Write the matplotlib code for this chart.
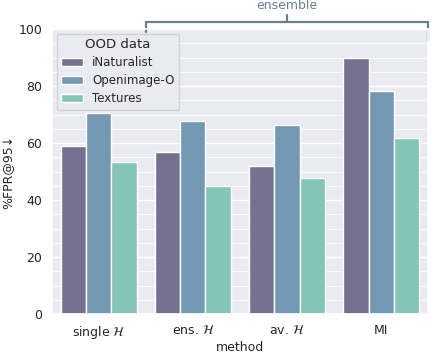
import matplotlib
matplotlib.use("Agg")
import matplotlib.pyplot as plt
import numpy as np
import pandas as pd
import seaborn as sns
from matplotlib.ticker import MultipleLocator

methods = ["single $\\mathcal{H}$", "ens. $\\mathcal{H}$", "av. $\\mathcal{H}$", "MI"]
datasets = ["iNaturalist", "Openimage-O", "Textures"]
inaturalist = [59.1, 57.0, 52.1, 90.0]
openimage = [70.5, 67.6, 66.2, 78.1]
textures = [53.5, 44.8, 47.6, 61.6]
colors = ["#75708f", "#7399b2", "#84c4b9"]

sns.set_theme(style="darkgrid")
plt.rcParams['font.family'] = ['DejaVu Sans']

df = pd.DataFrame({
    "method": methods * 3,
    "OOD data": sum([[d] * 4 for d in datasets], []),
    "fpr": inaturalist + openimage + textures,
})

fig = plt.figure(figsize=(4.32, 3.54), dpi=100)
ax = fig.add_axes([0.12, 0.113, 0.871, 0.805])
sns.barplot(data=df, x="method", y="fpr", hue="OOD data", palette=colors,
            ax=ax, saturation=1, edgecolor="white", linewidth=1)
ax.set_ylim(0, 100)
ax.set_xlim(-0.5, 3.5)
ax.yaxis.set_major_locator(MultipleLocator(20))
ax.yaxis.set_minor_locator(MultipleLocator(5))
ax.xaxis.grid(False)
ax.grid(which="major", axis="y", color="white", linewidth=1.0)
ax.grid(which="minor", axis="y", color="white", linewidth=0.6)
ax.tick_params(axis="both", which="both", length=0)
ax.tick_params(axis="x", labelsize=9, colors="#262626", pad=7.5)
ax.tick_params(axis="y", labelsize=9, colors="#262626", pad=7)
ax.set_xlabel("method", fontsize=9, color="#262626", labelpad=-0.5)
ax.set_ylabel("%FPR@95↓", fontsize=9, color="#262626", labelpad=2)
leg = ax.legend(title="OOD data", loc="upper left", fontsize=8.5, title_fontsize=9.5,
                frameon=True, borderaxespad=0.4, labelspacing=0.42, borderpad=0.4,
                handlelength=1.8)

# bracket for ensemble methods
br_color = "#6b7d8f"
x0, x1 = 0.5, 3.5
ax.plot([x0, x0, x1, x1], [99, 102.5, 102.5, 95.8], color=br_color, lw=1.6,
        clip_on=False, solid_joinstyle="miter")
ax.plot([(x0 + x1) / 2, (x0 + x1) / 2], [102.5, 105], color=br_color, lw=1.6,
        clip_on=False)
ax.text((x0 + x1) / 2, 108.2, "ensemble", ha="center", va="center", fontsize=9,
        color=br_color, clip_on=False)

fig.savefig("out.png", dpi=100)
